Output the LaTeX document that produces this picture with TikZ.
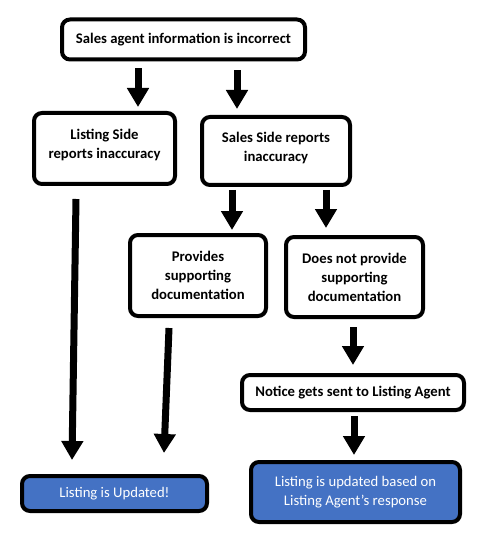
\documentclass[tikz,border=0pt]{standalone}
\usepackage{fontspec}
\setmainfont{Carlito}
\usetikzlibrary{arrows.meta}

\definecolor{boxblue}{HTML}{4472C4}

\tikzset{
    stepbox/.style={draw=black, line width=4pt, rounded corners=8pt, fill=white,
        align=center, inner sep=0pt, font=\fontsize{14.7}{19}\selectfont\bfseries},
    endbox/.style={stepbox, fill=boxblue, text=white, font=\fontsize{14.7}{19}\selectfont},
    arr/.style={line width=7pt, -{Triangle[width=21pt,length=19pt]}}
}

\begin{document}
\begin{tikzpicture}[x=1pt, y=-1pt]
        \useasboundingbox (0,0) rectangle (500,545);

        % boxes
        \node[stepbox, minimum width=243pt, minimum height=40pt] (start) at (183.5,39.5) {Sales agent information is incorrect};
        \node[stepbox, minimum width=141pt, minimum height=71pt] (listside) at (104.5,148.5) {Listing Side\\reports inaccuracy\\[-9pt]{}};
        \node[stepbox, minimum width=148pt, minimum height=68pt] (saleside) at (276,151) {Sales Side reports\\inaccuracy\\[-11pt]{}};
        \node[stepbox, minimum width=136pt, minimum height=81pt] (provides) at (198,275.5) {Provides\\supporting\\documentation};
        \node[stepbox, minimum width=137pt, minimum height=80pt] (noprovide) at (354.5,277) {Does not provide\\supporting\\documentation};
        \node[stepbox, minimum width=222pt, minimum height=35pt] (notice) at (353,392.5) {Notice gets sent to Listing Agent};
        \node[endbox, minimum width=185pt, minimum height=35pt] (updated) at (114.5,493.5) {Listing is Updated!};
        \node[endbox, minimum width=209pt, minimum height=60pt] (response) at (355.5,492) {Listing is updated based on\\Listing Agent’s response};

        % arrows
        \draw[arr] ([xshift=-45.5pt, yshift=-7pt]start.south) -- ([xshift=33.5pt, yshift=4pt]listside.north);
        \draw[arr] ([xshift=53.5pt, yshift=-9pt]start.south) -- ([xshift=-39pt, yshift=6pt]saleside.north);
        \draw[arr] ([xshift=-44pt, yshift=-3pt]saleside.south) -- ([xshift=34pt, yshift=3pt]provides.north);
        \draw[arr] ([xshift=50pt, yshift=-3pt]saleside.south) -- ([xshift=-28.5pt, yshift=7pt]noprovide.north);
        \draw[arr] ([xshift=-28.5pt, yshift=-13pt]listside.south) -- ([xshift=-42.5pt, yshift=14pt]updated.north);
        \draw[arr] ([xshift=-29pt, yshift=-10pt]provides.south) -- ([xshift=49.5pt, yshift=21pt]updated.north);
        \draw[arr] ([xshift=-1.5pt, yshift=-8pt]noprovide.south) -- ([yshift=8pt]notice.north);
        \draw[arr] ([xshift=1pt, yshift=-4pt]notice.south) -- ([xshift=-1.5pt, yshift=5pt]response.north);
\end{tikzpicture}
\end{document}
